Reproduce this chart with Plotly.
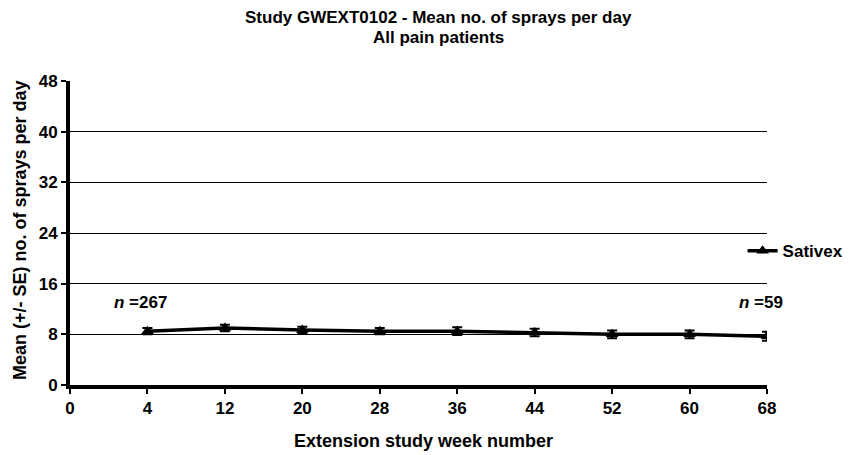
import plotly.graph_objects as go

categories = ["0", "4", "12", "20", "28", "36", "44", "52", "60", "68"]
weeks = ["4", "12", "20", "28", "36", "44", "52", "60", "68"]
mean_sprays = [8.5, 9.0, 8.7, 8.5, 8.5, 8.3, 8.0, 8.0, 7.7]
se_sprays = [0.5, 0.5, 0.5, 0.5, 0.6, 0.6, 0.6, 0.6, 0.7]
y_ticks = [0, 8, 16, 24, 32, 40, 48]
n_labels = [("4", "267"), ("68", "59")]
title_lines = ["Study GWEXT0102 - Mean no. of sprays per day", "All pain patients"]

font_family = "Liberation Sans, Arial, sans-serif"

fig = go.Figure()
fig.add_trace(go.Scatter(
    x=weeks, y=mean_sprays, name="<b>Sativex</b>", mode="lines+markers",
    line=dict(color="black", width=3.5),
    marker=dict(symbol="triangle-up", size=11, color="black"),
    error_y=dict(type="data", array=se_sprays, visible=True, color="black", thickness=2, width=5),
))

fig.update_layout(
    width=857, height=447,
    margin=dict(l=62, r=98, t=73, b=70, autoexpand=False),
    paper_bgcolor="white", plot_bgcolor="white",
    font=dict(family=font_family, size=17, color="black"),
    showlegend=True,
    legend=dict(x=0.965, xanchor="left", y=0.44, yanchor="middle",
                font=dict(size=17, family=font_family), bgcolor="rgba(0,0,0,0)",
                itemwidth=30),
    xaxis=dict(
        type="category", categoryorder="array", categoryarray=categories,
        range=[0, len(categories) - 1], automargin=False,
        tickvals=categories, ticktext=["<b>%s</b>" % c for c in categories],
        tickfont=dict(size=17),
        showgrid=False, showline=True, linecolor="black", linewidth=4,
        ticks="outside", ticklen=5, tickwidth=2, tickcolor="black",
        zeroline=False,
    ),
    yaxis=dict(
        range=[0, 48], automargin=False,
        tickvals=y_ticks, ticktext=["<b>%d</b>" % v for v in y_ticks],
        tickfont=dict(size=17),
        showgrid=True, gridcolor="black", gridwidth=1,
        showline=True, linecolor="black", linewidth=4,
        ticks="outside", ticklen=5, tickwidth=2, tickcolor="black",
        zeroline=False,
    ),
)

# chart title (two lines)
for line, shift in zip(title_lines, [64, 44]):
    fig.add_annotation(xref="paper", yref="paper", x=0.5, y=1, xshift=20, yshift=shift,
                       xanchor="center", yanchor="middle", showarrow=False,
                       text="<b>%s</b>" % line, font=dict(size=17, family=font_family))

# axis titles
fig.add_annotation(xref="paper", yref="paper", x=0.5, y=0, yshift=-56, xshift=5,
                   text="<b>Extension study week number</b>", showarrow=False,
                   font=dict(size=18, family=font_family), yanchor="middle")
fig.add_annotation(xref="paper", yref="paper", x=0, y=0.5, xshift=-50, yshift=3,
                   text="<b>Mean (+/- SE) no. of sprays per day</b>", showarrow=False,
                   textangle=-90, font=dict(size=18, family=font_family), xanchor="center")

for wk, n in n_labels:
    fig.add_annotation(x=categories.index(wk), y=13.0, text="<b><i>n</i> =%s</b>" % n,
                       showarrow=False, xref="x", yref="y",
                       font=dict(size=17, family=font_family), yanchor="middle",
                       xshift=-7 if wk == "4" else -6)

fig.write_html("out.html")
